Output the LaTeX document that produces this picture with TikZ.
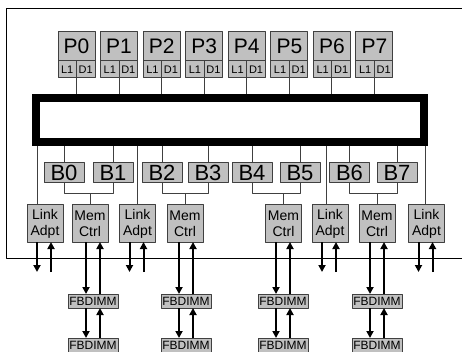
\documentclass[tikz,border=0pt]{standalone}
\usepackage{fontspec}
\setmainfont{Liberation Sans}
\usetikzlibrary{arrows.meta}
\definecolor{boxgray}{HTML}{C0C0C0}
\definecolor{edgegray}{HTML}{404040}
\tikzset{
  every picture/.style={line join=round, >=Stealth},
  unit/.style={draw=edgegray, fill=boxgray, line width=1pt, inner sep=0pt, outer sep=0pt, align=center},
  cpu/.style={unit, minimum width=37pt, minimum height=29pt, font=\fontsize{21}{21}\selectfont},
  cache/.style={unit, minimum width=18.5pt, minimum height=17pt, font=\fontsize{11}{11}\selectfont},
  bank/.style={unit, minimum width=40pt, minimum height=20pt, font=\fontsize{22}{22}\selectfont},
  ctrl/.style={unit, minimum width=36pt, minimum height=37pt, font=\fontsize{14}{16}\selectfont},
  dimm/.style={unit, minimum width=50pt, minimum height=14pt, font=\fontsize{12}{12}\selectfont},
  wire/.style={draw=edgegray, line width=1pt},
  link/.style={line width=2pt, -{Stealth[length=7pt,width=7pt,inset=0pt]}},
}

\begin{document}
\begin{tikzpicture}[x=1pt,y=-1pt]
\useasboundingbox (0,0) rectangle (462,352);
% chip outline
\draw[line width=1pt] (462,9) -| (6,258) -- (462,258);
% crossbar
\node[draw, line width=8pt, line join=miter, minimum width=388pt, minimum height=44pt, inner sep=0pt] (bus) at (230,120) {};
% processors
\foreach \i in {0,...,7}{
  \node[cpu] (p\i) at ({76.5+42.57*\i},46.5) {P\i};
  \node[cache, anchor=north west] (l\i) at (p\i.south west) {L1};
  \node[cache, anchor=north east] (d\i) at (p\i.south east) {D1};
  \draw[wire] (l\i.south east) -- (l\i.south east |- bus.north);
}
% banks
\foreach \n/\x in {0/64,1/113,2/162,3/208,4/252,5/300,6/349.5,7/397}{
  \node[bank] (b\n) at (\x,173) {B\n};
  \draw[wire] (b\n.north) -- (b\n.north |- bus.south);
}
% memory controllers and link adapters
\foreach \k/\m/\a in {0/90/45,1/185/137.5,2/283.5/330,3/377/426.5}{
  \node[ctrl] (m\k) at (\m,223.5) {Mem\\Ctrl};
  \node[ctrl] (a\k) at (\a,223.5) {Link\\Adpt};
}
\foreach \k/\a/\b in {0/0/1,1/2/3,2/4/5,3/6/7}{
  \draw[wire] (b\a.south) -- ++(0,11) coordinate (j\k) -| (b\b.south);
  \draw[wire] (m\k.north) -- (m\k.north |- j\k);
}
\foreach \k/\s in {0/-8,1/0,2/-4,3/-1.5}
  \draw[wire] ([xshift=\s pt]a\k.north) -- ([xshift=\s pt]a\k.north |- bus.south);
% off-chip links
\foreach \k in {0,...,3}{
  \coordinate (ao\k) at ([xshift=-8pt,yshift=-30pt]a\k.south);
  \coordinate (ai\k) at ([xshift=6pt,yshift=-30pt]a\k.south);
  \draw[link] ([xshift=-8pt]a\k.south) -- (ao\k);
  \draw[link] (ai\k) -- ([xshift=6pt]a\k.south);
}
% FBDIMM chains
\foreach \k/\x in {0/93,1/186,2/283,3/377}{
  \node[dimm] (fa\k) at (\x,301) {FBDIMM};
  \node[dimm] (fb\k) at (\x,345) {FBDIMM};
  \draw[link] ([xshift=-7pt]fa\k.north |- m\k.south) -- ([xshift=-7pt]fa\k.north);
  \draw[link] ([xshift=7pt]fa\k.north) -- ([xshift=7pt]fa\k.north |- m\k.south);
  \draw[link] ([xshift=-7pt]fa\k.south) -- ([xshift=-7pt]fb\k.north);
  \draw[link] ([xshift=7pt]fb\k.north) -- ([xshift=7pt]fa\k.south);
}
\end{tikzpicture}
\end{document}
